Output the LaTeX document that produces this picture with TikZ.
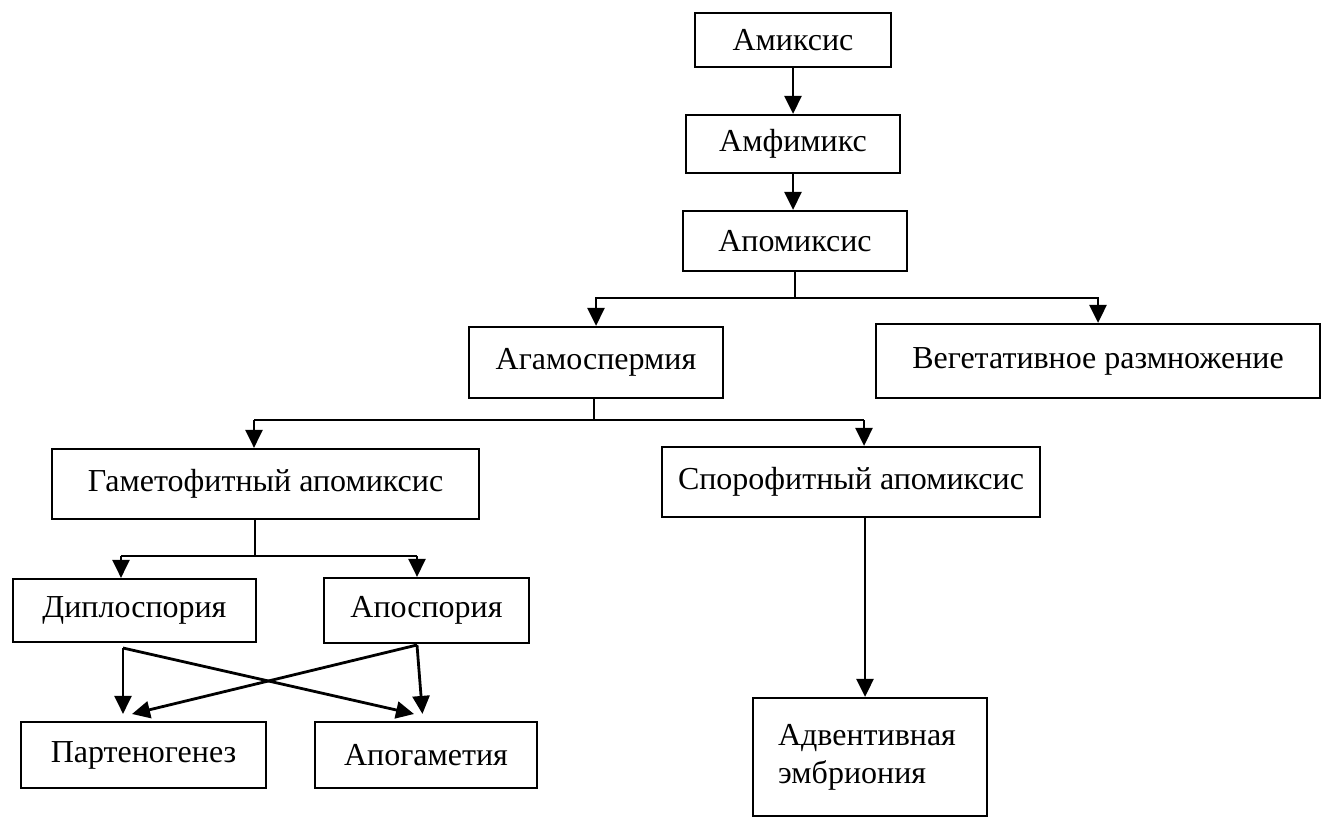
\documentclass[tikz,border=0pt]{standalone}
\usepackage{fontspec}
\setmainfont{Liberation Serif}
\usetikzlibrary{calc,positioning,arrows.meta}

\begin{document}
\begin{tikzpicture}[x=0.5pt, y=-0.5pt, box/.style={draw, line width=1.1pt, inner sep=0pt, font=\fontsize{16}{19}\selectfont},
  ln/.style={line width=1.4pt}, arr/.style={ln, -{Triangle[length=9pt, width=8.5pt]}}]
\useasboundingbox (0,0) rectangle (1327,819);
\node[box, minimum width=98pt, minimum height=27pt] (amiks) at (793,40) {Амиксис};
\node[box, minimum width=107pt, minimum height=29pt] (amfi) at (793,144) {Амфимикс};
\node[box, minimum width=112pt, minimum height=30pt] (apom) at (795,241) {Апомиксис};
\node[box, minimum width=127pt, minimum height=35.5pt] (agam) at (596,362.5) {Агамоспермия};
\node[box, minimum width=222pt, minimum height=37pt] (veg) at (1098,361) {Вегетативное размножение};
\node[box, minimum width=213.5pt, minimum height=35pt] (gamet) at (265.5,484) {Гаметофитный апомиксис};
\node[box, minimum width=189pt, minimum height=35pt] (sporo) at (851,482) {Спорофитный апомиксис};
\node[box, minimum width=121.5pt, minimum height=31.5pt] (diplo) at (134.5,610.5) {Диплоспория};
\node[box, minimum width=102.5pt, minimum height=32.5pt] (aposp) at (426.5,610.5) {Апоспория};
\node[box, minimum width=122.5pt, minimum height=33pt] (parth) at (143.5,755) {Партеногенез};
\node[box, minimum width=111pt, minimum height=33pt] (apogam) at (426,755) {Апогаметия};
\node[box, minimum width=117pt, minimum height=59pt, text width=92pt, inner xsep=12.5pt, align=left] (adv) at (870,757) {Адвентивная\\эмбриония};

\draw[arr] (amiks.south) -- (amfi.north);
\draw[arr] (amfi.south) -- (amfi.south |- apom.north);

\coordinate (f1) at (795,298);
\draw[ln] (apom.south) -- (f1);
\draw[arr] (f1) -| (agam.north);
\draw[arr] (f1) -| (veg.north);

\coordinate (f2) at (594,420);
\coordinate (g2) at (254,420);
\coordinate (s2) at (864,420);
\draw[ln] (agam.south -| f2) -- (f2);
\draw[ln] (g2) -- (s2);
\draw[arr] (g2) -- (g2 |- gamet.north);
\draw[arr] (s2) -- (s2 |- sporo.north);

\coordinate (f3) at (255,556);
\coordinate (d3) at (121,556);
\coordinate (a3) at (417,556);
\draw[ln] (gamet.south -| f3) -- (f3);
\draw[ln] (d3) -- (a3);
\draw[arr] (d3) -- (d3 |- diplo.north);
\draw[arr] (a3) -- (a3 |- aposp.north);

\coordinate (d1) at (123,648);
\coordinate (a1) at (417,645);
\coordinate (p1) at (132,714);
\coordinate (q1) at (414,714);
\draw[arr, shorten >=3.5pt] (d1) -- (d1 |- parth.north);
\draw[arr] (d1) -- (q1);
\draw[arr] (a1) -- (p1);
\draw[arr, shorten >=3.5pt] (a1) -- ($(a1 |- apogam.north)+(6,0)$);

\draw[arr] (sporo.south -| 865,0) -- (adv.north -| 865,0);
\end{tikzpicture}
\end{document}
